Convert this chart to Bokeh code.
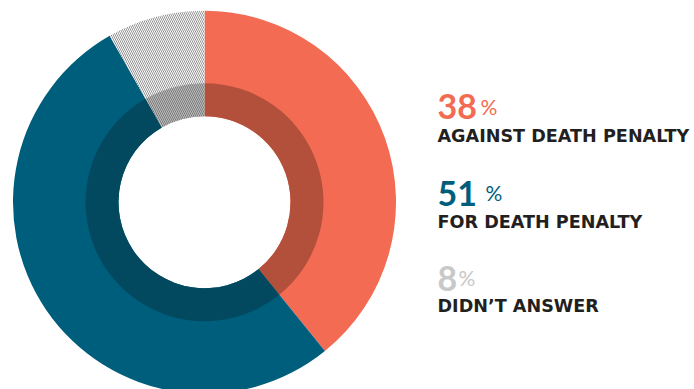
import math
from bokeh.plotting import figure
from bokeh.models import Range1d, ColumnDataSource
from bokeh.core.properties import value
from bokeh.embed import file_html
from bokeh.resources import INLINE

# ---- data ----
labels = ["AGAINST DEATH PENALTY", "FOR DEATH PENALTY", "DIDN\u2019T ANSWER"]
values = [38, 51, 8]
colors = ["#F26B52", "#005E7D", "#FFFFFF"]
dark_colors = ["#B3503C", "#02495F", "#BDBDBD"]
hatches = [" ", " ", "\\"]
hatch_colors = ["#939393", "#939393", "#939393"]
dark_hatch_colors = ["#7A7A7A", "#7A7A7A", "#7A7A7A"]
number_colors = ["#F26B52", "#005E7D", "#C8C8C8"]

# ---- layout ----
W, H = 694, 389
cx, cy = 204, H - 201.7
r_outer, r_ring, r_hole = 191.5, 119, 86

total = sum(values)
starts, ends = [], []
a = math.pi / 2
for v in values:
    starts.append(a)
    a = a - 2 * math.pi * v / total
    ends.append(a)

src = ColumnDataSource(dict(
    start=starts, end=ends, color=colors, dark=dark_colors,
    hatch=hatches, hcolor=hatch_colors, dhcolor=dark_hatch_colors,
))

p = figure(width=W, height=H, x_range=Range1d(0, W), y_range=Range1d(0, H),
           output_backend="svg", toolbar_location=None, min_border=0,
           x_axis_type=None, y_axis_type=None)
p.grid.visible = False
p.outline_line_color = None
p.background_fill_color = "white"
p.border_fill_color = "white"

# outer ring (clockwise from 12 o'clock)
p.annular_wedge(x=cx, y=cy, inner_radius=r_hole, outer_radius=r_outer,
                start_angle="start", end_angle="end", direction="clock",
                fill_color="color", line_color=None,
                hatch_pattern="hatch", hatch_color="hcolor",
                hatch_scale=4, hatch_weight=1, source=src)
# darker inner band
p.annular_wedge(x=cx, y=cy, inner_radius=r_hole, outer_radius=r_ring,
                start_angle="start", end_angle="end", direction="clock",
                fill_color="dark", line_color=None,
                hatch_pattern="hatch", hatch_color="dhcolor",
                hatch_scale=4, hatch_weight=1, source=src)

# ---- legend texts ----
tx = 437
num_base = [117 - 11, 204 - 11, 288.5 - 11]
pct_x = [480, 485, 458]
pct_base = [111.5 - 6, 198 - 6, 282.5 - 6]
label_base = [141.5 - 6, 227.5 - 6, 311.5 - 6]

for i in range(3):
    p.text(x=[tx], y=[H - num_base[i]], text=[str(values[i])],
           text_font=value("Lato"), text_font_style="bold", text_font_size="34px",
           text_color=number_colors[i], text_baseline="alphabetic", text_align="left")
    p.text(x=[pct_x[i]], y=[H - pct_base[i]], text=["%"],
           text_font=value("Lato"), text_font_style="normal", text_font_size="21px",
           text_color=number_colors[i], text_baseline="alphabetic", text_align="left")
    p.text(x=[tx], y=[H - label_base[i]], text=[labels[i]],
           text_font=value("DejaVu Sans"), text_font_style="bold", text_font_size="17.6px",
           text_color="#231F20", text_baseline="alphabetic", text_align="left")

open("out.html", "w").write(file_html(p, INLINE))
